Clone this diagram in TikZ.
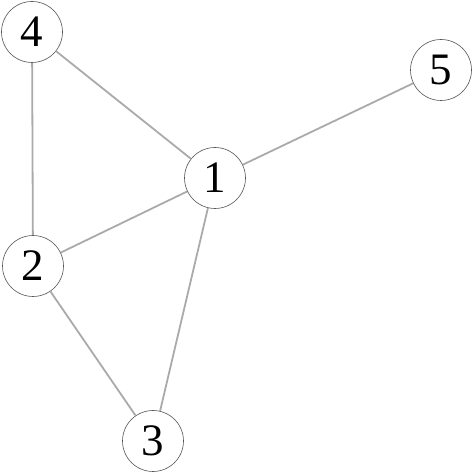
\documentclass[tikz,border=0pt]{standalone}
\usepackage{fontspec}
\setmainfont{Liberation Serif}
\usepackage{tikz}
\usetikzlibrary{positioning}
\definecolor{edgec}{HTML}{AAAAAA}
\definecolor{ringc}{HTML}{555555}

\begin{document}
\begin{tikzpicture}[x=1pt, y=1pt,
    vert/.style={circle, draw=ringc, line width=0.6pt, fill=white, minimum size=61pt,
                 inner sep=0pt, font=\fontsize{45}{45}\selectfont},
    link/.style={draw=edgec, line width=1.8pt}]
  % frame
  \useasboundingbox (0,0) rectangle (473,473);
  % vertices
  \node[vert] (v1) at (215,295) {1};
  \node[vert] (v2) at (33,207) {2};
  \node[vert] (v3) at (153,32) {3};
  \node[vert] (v4) at (32,441) {4};
  \node[vert] (v5) at (441,403) {5};
  % edges
  \draw[link] (v4) -- (v1);
  \draw[link] (v4) -- (v2);
  \draw[link] (v1) -- (v5);
  \draw[link] (v1) -- (v2);
  \draw[link] (v1) -- (v3);
  \draw[link] (v2) -- (v3);
\end{tikzpicture}
\end{document}
